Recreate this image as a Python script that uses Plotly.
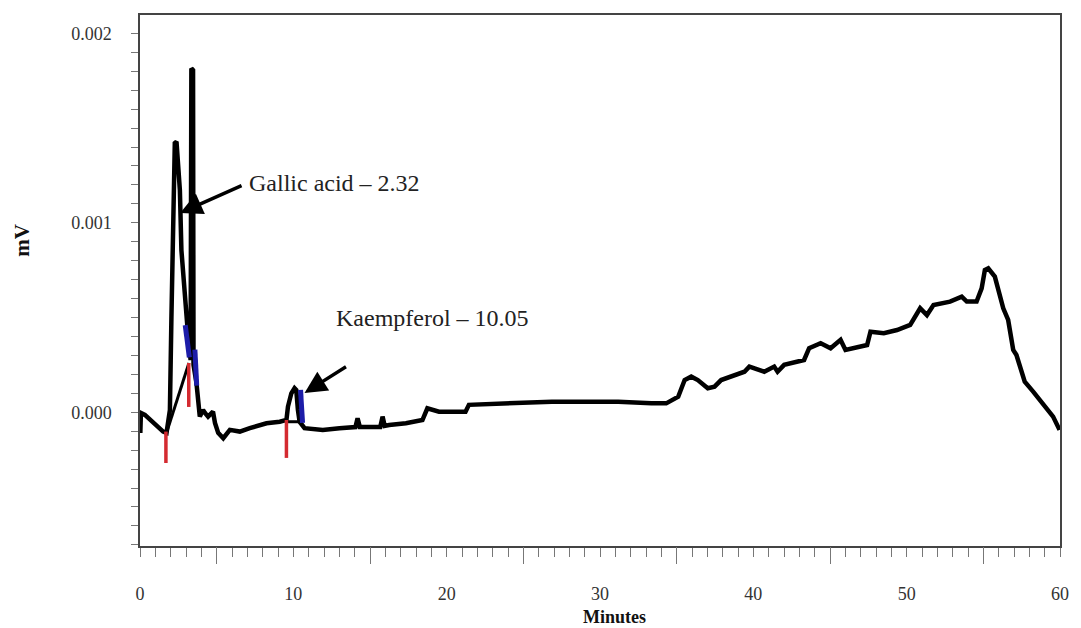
import plotly.graph_objects as go

# ---------------- data ----------------
time_min = [0.02, 0.06, 0.32, 0.80, 1.51, 1.73, 1.95, 2.05, 2.16, 2.27, 2.38, 2.49, 2.60,
            2.70, 2.92, 3.09, 3.20, 3.30, 3.35, 3.46, 3.49, 3.68, 3.90, 4.11, 4.24, 4.44,
            4.76, 4.89, 5.10, 5.43, 5.86, 6.51, 7.16, 8.25, 9.11, 9.55, 9.65, 9.87, 10.08,
            10.19, 10.30, 10.41, 10.73, 11.92, 13.01, 14.05, 14.19, 14.34, 15.67, 15.82,
            15.96, 16.25, 17.34, 18.42, 18.74, 19.50, 20.36, 21.23, 21.45, 23.61, 25.34,
            26.86, 29.03, 31.19, 33.35, 34.32, 35.10, 35.52, 35.95, 36.38, 37.03, 37.47,
            37.90, 39.42, 39.74, 40.71, 41.36, 41.58, 42.01, 43.31, 43.64, 44.39, 45.04,
            45.69, 46.01, 46.77, 47.42, 47.64, 48.51, 49.37, 50.23, 50.88, 51.32, 51.75,
            52.83, 53.59, 53.92, 54.56, 54.89, 55.10, 55.32, 55.75, 56.08, 56.30, 56.62,
            56.95, 57.16, 57.49, 57.70, 58.25, 58.90, 59.55, 59.97]
signal_mv = [-0.000109, -0.000004, -0.000014, -0.000051, -0.000102, -0.000109, 0.000012,
             0.000504, 0.000962, 0.001421, 0.001428, 0.001263, 0.001173, 0.000856, 0.000593,
             0.000452, 0.000355, 0.000276, 0.001815, 0.001806, 0.000250, 0.000155, -0.000023,
             0.000012, -0.000004, -0.000023, 0.000003, -0.000056, -0.000109, -0.000137,
             -0.000093, -0.000102, -0.000084, -0.000058, -0.000050, -0.000041, 0.000030,
             0.000100, 0.000127, 0.000118, 0.000012, -0.000050, -0.000084, -0.000093,
             -0.000084, -0.000078, -0.000032, -0.000078, -0.000078, -0.000023, -0.000072,
             -0.000067, -0.000058, -0.000041, 0.000021, 0.000003, 0.000003, 0.000003,
             0.000039, 0.000047, 0.000056, 0.000056, 0.000056, 0.000056, 0.000047, 0.000047,
             0.000082, 0.000170, 0.000188, 0.000170, 0.000127, 0.000135, 0.000170, 0.000214,
             0.000241, 0.000214, 0.000241, 0.000214, 0.000250, 0.000276, 0.000338, 0.000364,
             0.000338, 0.000382, 0.000329, 0.000346, 0.000355, 0.000425, 0.000417, 0.000434,
             0.000461, 0.000549, 0.000513, 0.000566, 0.000584, 0.000610, 0.000584, 0.000584,
             0.000654, 0.000751, 0.000760, 0.000716, 0.000628, 0.000549, 0.000487, 0.000329,
             0.000302, 0.000223, 0.000161, 0.000109, 0.000047, -0.000023, -0.000093]

# integration baselines (start/end of each)
baseline_x = [[1.73, 3.19], [9.55, 10.41]]
baseline_y = [[-0.000109, 0.000260], [-0.000050, -0.000050]]

# red peak-start markers: time, top, bottom
red_time = [1.69, 3.18, 9.55]
red_top = [-0.000102, 0.000260, -0.000041]
red_bottom = [-0.000268, 0.000028, -0.000241]

# blue peak-end segments
blue_x = [[2.95, 3.12, 3.22], [3.58, 3.66, 3.70], [10.47, 10.60]]
blue_y = [[0.000460, 0.000360, 0.000290], [0.000330, 0.000220, 0.000140], [0.000118, -0.000056]]

# peak labels: text, text anchor (time, mV), arrow tail, arrow head
peak_labels = ["Gallic acid – 2.32", "Kaempferol – 10.05"]
label_pos = [(7.00, 0.001209), (12.68, 0.000498)]
arrow_tail = [(6.72, 0.001200), (13.53, 0.000245)]
arrow_head = [(2.62, 0.001052), (10.73, 0.000102)]

x_tick_vals = [0, 10, 20, 30, 40, 50, 60]
x_long_ticks = [5, 15, 25, 35, 45, 55]
y_tick_vals = [0.0, 0.001, 0.002]
y_tick_text = ["0.000", "0.001", "0.002"]

# ---------------- figure ----------------
SERIF = "Liberation Serif, Times New Roman, serif"
fig = go.Figure()

fig.add_trace(go.Scatter(x=time_min, y=signal_mv, mode="lines",
                         line=dict(color="black", width=4.5), hoverinfo="skip",
                         showlegend=False))

for bx, by in zip(baseline_x, baseline_y):
    fig.add_trace(go.Scatter(x=bx, y=by, mode="lines", line=dict(color="black", width=3),
                             hoverinfo="skip", showlegend=False))

for bx, by in zip(blue_x, blue_y):
    fig.add_trace(go.Scatter(x=bx, y=by, mode="lines", line=dict(color="#1c1ca8", width=5),
                             hoverinfo="skip", showlegend=False))

rx, ry = [], []
for t, top, bot in zip(red_time, red_top, red_bottom):
    rx += [t, t, None]
    ry += [top, bot, None]
fig.add_trace(go.Scatter(x=rx, y=ry, mode="lines", line=dict(color="#d42a30", width=3.5),
                         hoverinfo="skip", showlegend=False, xaxis="x2"))

for txt, (lx, ly), (tx, ty), (hx, hy) in zip(peak_labels, label_pos, arrow_tail, arrow_head):
    fig.add_annotation(x=hx, y=hy, ax=tx, ay=ty, axref="x", ayref="y", xref="x", yref="y",
                       text="", showarrow=True, arrowhead=2, arrowsize=1.3, arrowwidth=3.4,
                       arrowcolor="black", standoff=0, startstandoff=0)
    fig.add_annotation(x=lx, y=ly, xref="x", yref="y", text=txt, showarrow=False,
                       xanchor="left", yanchor="middle",
                       font=dict(family=SERIF, size=24, color="#222222"))

# axis titles placed like the original
fig.add_annotation(x=-0.1277, y=0.576, xref="paper", yref="paper", text="<b>mV</b>",
                   textangle=-90, showarrow=False, xanchor="center", yanchor="middle",
                   font=dict(family=SERIF, size=21, color="#111111"))
fig.add_annotation(x=0.516, y=-0.1337, xref="paper", yref="paper", text="<b>Minutes</b>",
                   showarrow=False, xanchor="center", yanchor="middle",
                   font=dict(family=SERIF, size=18, color="#111111"))

xr = [0, 60]
fig.update_layout(
    width=1081, height=628,
    margin=dict(l=140, r=17, t=15, b=82),
    paper_bgcolor="white", plot_bgcolor="white",
    xaxis=dict(range=xr, tickvals=x_tick_vals, ticks="outside", ticklen=9, tickwidth=1,
               tickcolor="#777777", showgrid=False, zeroline=False, showline=True,
               linecolor="#444444", linewidth=1.5, mirror=True,
               tickfont=dict(family=SERIF, size=18, color="#333333"),
               ticklabelstandoff=22,
               minor=dict(dtick=1, tick0=0, ticks="outside", ticklen=9, tickcolor="#777777")),
    xaxis2=dict(range=xr, overlaying="x", anchor="y", side="bottom", tickvals=x_long_ticks,
                ticks="outside", ticklen=17, tickwidth=1, tickcolor="#777777",
                showticklabels=False, showgrid=False, zeroline=False, showline=False),
    yaxis=dict(range=[-0.000706, 0.002097], tickvals=y_tick_vals, ticktext=y_tick_text,
               ticks="outside", ticklen=7, tickwidth=1, tickcolor="#777777",
               showgrid=False, zeroline=False, showline=True, linecolor="#444444",
               linewidth=1.5, mirror=True,
               tickfont=dict(family=SERIF, size=18, color="#333333"),
               ticklabelstandoff=16,
               minor=dict(dtick=0.0001, tick0=0, ticks="outside", ticklen=7,
                          tickcolor="#777777")),
)

fig.write_html("out.html")
